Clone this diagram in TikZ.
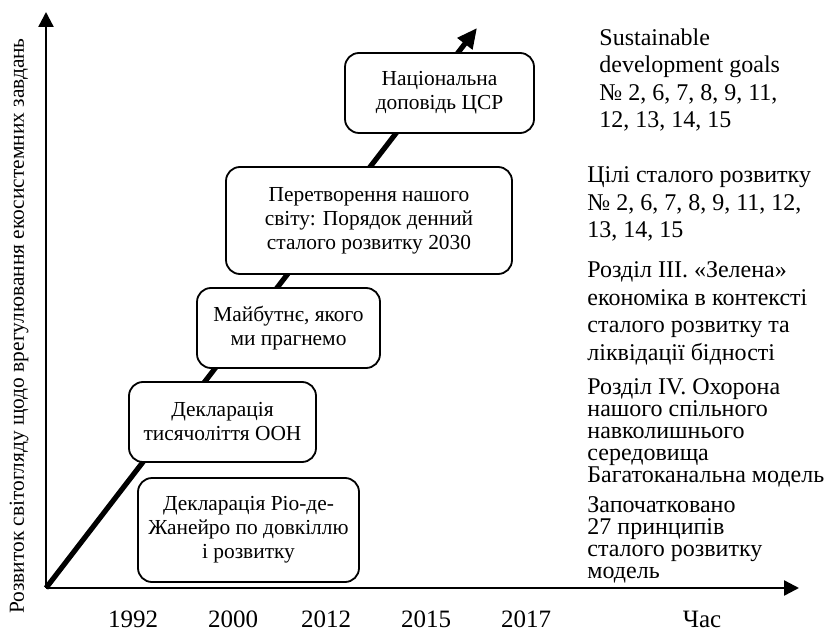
\documentclass[tikz,border=0pt]{standalone}
\usepackage{fontspec}
\setmainfont{Liberation Serif}
\usetikzlibrary{arrows.meta}
\newcommand{\looselines}{\fontsize{12}{13.75}\selectfont\lineskiplimit=-20pt}
\newcommand{\tightlines}{\fontsize{12}{10.9}\selectfont\lineskiplimit=-20pt}
\tikzset{
  event/.style={draw,rounded corners=7pt,fill=white,line width=0.9pt,
    align=center,inner sep=2pt,font=\fontsize{10.7}{12}\selectfont},
  note/.style={anchor=base west,align=left,inner sep=0pt},
  year/.style={anchor=base,inner sep=0pt,font=\fontsize{12.5}{13}\selectfont},
  axis/.style={-{Triangle[length=7.5pt,width=7.5pt]},line width=1.2pt},
  trend/.style={-{Triangle[length=10pt,width=9pt]},line width=2.6pt}
}

\begin{document}
\begin{tikzpicture}[x=0.5pt,y=-0.5pt]
  \useasboundingbox (0,0) rectangle (828,630);
  % axes and trend line
  \coordinate (O) at (46,588);
  \coordinate (ytop) at (46,12);
  \coordinate (xend) at (799,588);
  \coordinate (peak) at (477,28);
  \draw[trend] (O) -- (peak);
  \draw[axis] (O) -- (ytop);
  \draw[axis] (O) -- (xend);
  \node[rotate=90,inner sep=0pt,font=\fontsize{10.7}{12}\selectfont] (ylabel) at (19,326)
    {Розвиток світогляду щодо врегулювання екосистемних завдань};
  % documents
  \node[event,minimum width=110.5pt,minimum height=52pt] (rio) at (248.5,530)
    {Декларація Ріо-де-\\Жанейро по довкіллю\\і розвитку};
  \node[event,minimum width=93.5pt,minimum height=40pt] (mdg) at (222.5,422)
    {Декларація\\тисячоліття ООН};
  \node[event,minimum width=91.5pt,minimum height=40pt] (future) at (288.5,328)
    {Майбутнє, якого\\ми прагнемо};
  \node[event,minimum width=143pt,minimum height=53.5pt] (agenda) at (369,220.5)
    {Перетворення нашого\\світу: Порядок денний\\сталого розвитку 2030};
  \node[event,minimum width=94.5pt,minimum height=40pt] (report) at (439.5,93)
    {Національна\\доповідь ЦСР};
  % notes on the right (placed by the baseline of their last line)
  \node[note,font=\looselines] (sdg) at (599,128)
    {Sustainable\\development goals\\№ 2, 6, 7, 8, 9, 11,\\12, 13, 14, 15};
  \node[note,font=\looselines] (goals) at (587,238)
    {Цілі сталого розвитку\\№ 2, 6, 7, 8, 9, 11, 12,\\13, 14, 15};
  \node[note,font=\looselines] (green) at (587,360)
    {Розділ III. «Зелена»\\економіка в контексті\\сталого розвитку та\\ліквідації бідності};
  \node[note,font=\tightlines] (env) at (587,482)
    {Розділ IV. Охорона\\нашого спільного\\навколишнього\\середовища\\Багатоканальна модель};
  \node[note,font=\tightlines] (principles) at (587,578)
    {Започатковано\\27 принципів\\сталого розвитку\\модель};
  % time scale
  \foreach \yr/\xx in {1992/133,2000/233,2012/326,2015/426,2017/526}
    \node[year] (y\yr) at (\xx,627) {\yr};
  \node[year] (time) at (702,627) {Час};
\end{tikzpicture}
\end{document}
